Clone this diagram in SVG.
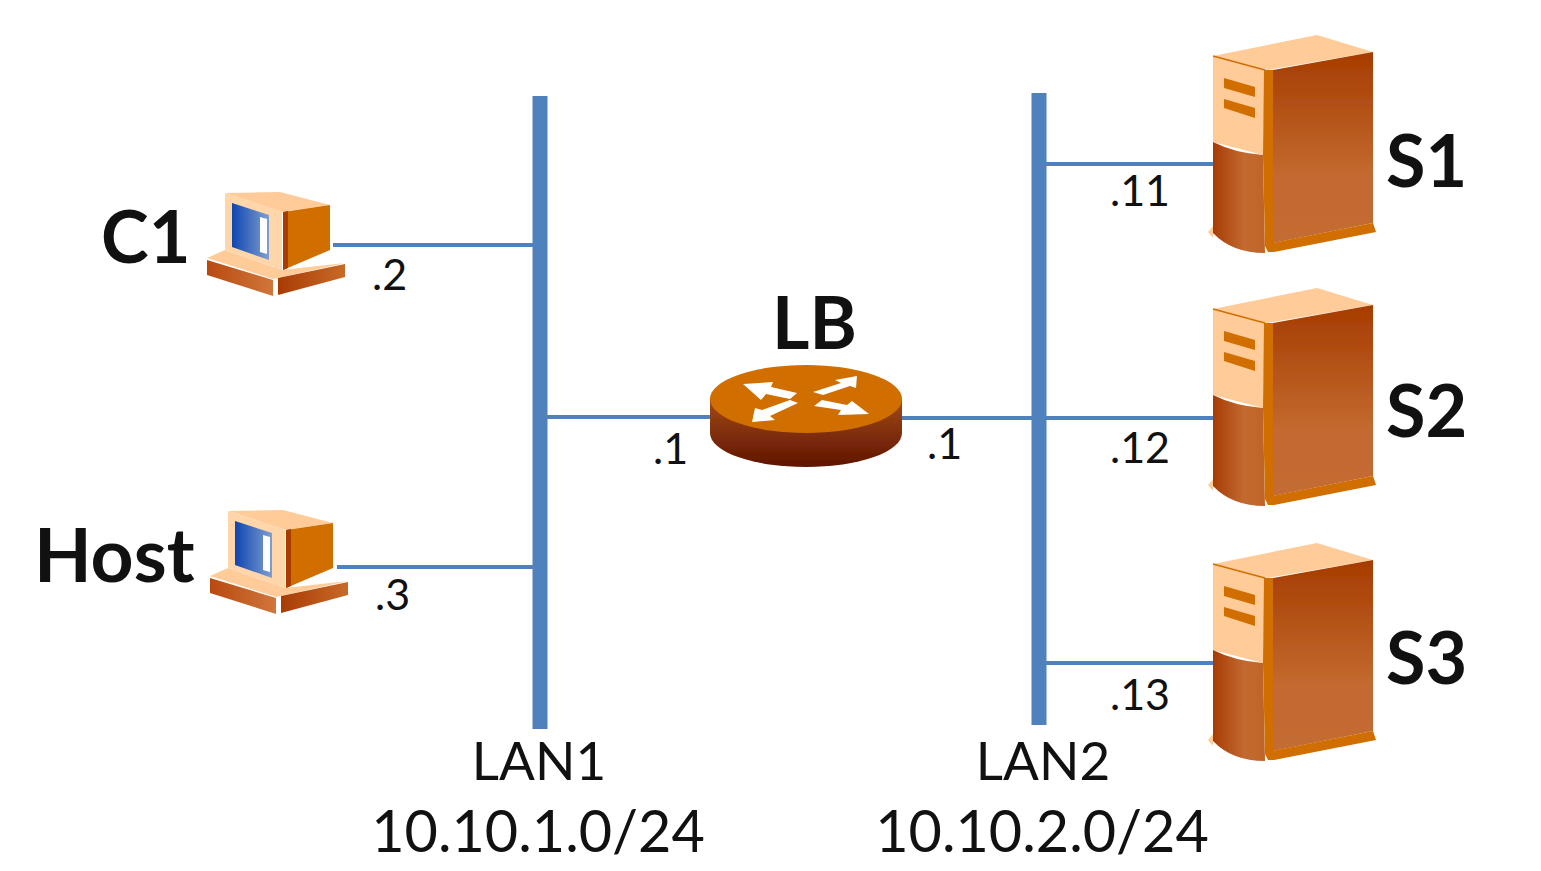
<svg xmlns="http://www.w3.org/2000/svg" xmlns:xlink="http://www.w3.org/1999/xlink" width="1541" height="871" viewBox="0 0 1541 871">
<style>
text{font-family:Lato,"Open Sans","Liberation Sans",sans-serif;fill:#111}
.b{font-weight:700;font-size:72px}
.l{font-size:43px}
.lan{font-size:53px}
.net{font-size:57.5px}
.bus{stroke:#4f81bd;stroke-width:15;fill:none}
.wire{stroke:#4f81bd;stroke-width:4;fill:none}
</style>
<defs>
<filter id="soft" x="-5%" y="-5%" width="110%" height="110%"><feGaussianBlur stdDeviation="0.7"/></filter>
<linearGradient id="scr" x1="0" x2="1" y1="0" y2="0"><stop offset="0" stop-color="#0f46b0"/><stop offset="1" stop-color="#7f9fd0"/></linearGradient>
<linearGradient id="lowFront" x1="0" x2="1" y1="0" y2="0"><stop offset="0" stop-color="#a83c04"/><stop offset=".6" stop-color="#c26a30"/><stop offset="1" stop-color="#c06428"/></linearGradient>
<linearGradient id="srvSide" x1="0" x2="0" y1="0" y2="1"><stop offset="0" stop-color="#a63c00"/><stop offset=".65" stop-color="#c26a30"/><stop offset="1" stop-color="#c46c34"/></linearGradient>
<linearGradient id="rtrSide" x1="0" x2="0" y1="0" y2="1"><stop offset="0" stop-color="#a04a18"/><stop offset="1" stop-color="#601400"/></linearGradient>
<linearGradient id="baseL" x1="0" x2="1" y1="0" y2="0"><stop offset="0" stop-color="#b84a10"/><stop offset="1" stop-color="#d0763c"/></linearGradient>
<linearGradient id="baseR" x1="0" x2="1" y1="0" y2="0"><stop offset="0" stop-color="#a83c04"/><stop offset="1" stop-color="#c86a28"/></linearGradient>
<g id="pc" filter="url(#soft)">
<polygon points="207,258 225,250 282,270 345,263 278,278 273,279" fill="#ffcc99"/>
<polygon points="207,260 273,280 273,296 207,275" fill="url(#baseL)"/>
<polygon points="278,278 345,264 345,277 278,295" fill="url(#baseR)"/>
<polygon points="225,193 280,192 330,205 282,212" fill="#ffcc99"/>
<polygon points="225,193 282,212 282,270 225,250" fill="#ffd5aa"/>
<polygon points="283,212 330,205 330,250 283,270" fill="#d06e00"/>
<polygon points="283,212 288,211 288,268 283,270" fill="#a83c04"/>
<polygon points="232,203 269,215 269,260 232,247" fill="url(#scr)"/>
<polygon points="260,217 267,219 267,254 260,252" fill="#fff"/>
</g>
<g id="srv" filter="url(#soft)">
<polygon points="1213,56 1317,35 1373,52 1267,70" fill="#ffcc99"/>
<polygon points="1213,56 1265,70 1263,155 1213,142" fill="#ffcc99"/>
<path d="M1213,56 L1265,70" stroke="#d06e00" stroke-width="1.5"/>
<path d="M1213,142 Q1235,153 1263,155 L1265,253 Q1232,253 1213,233 Z" fill="url(#lowFront)"/>
<polygon points="1208,232 1213,226 1213,238" fill="#ffcc99"/>
<polygon points="1264,70 1274,70 1274,252 1268,252 1265,246 1263,155" fill="#d06e00"/>
<polygon points="1273,70 1373,52 1373,223 1273,243" fill="url(#srvSide)"/>
<polygon points="1272,243 1373,223 1376,232 1274,252" fill="#d06e00"/>
<polygon points="1224,78 1255,87 1255,97 1224,88" fill="#d06e00"/>
<polygon points="1224,99 1255,108 1255,118 1224,108" fill="#d06e00"/>
</g>
</defs>
<rect width="1541" height="871" fill="#fff"/>
<g id="connectors">
<line class="bus" x1="540" y1="96" x2="540" y2="729"/>
<line class="bus" x1="1039" y1="93" x2="1039" y2="725"/>
<line class="wire" x1="333" y1="245" x2="533" y2="245"/>
<line class="wire" x1="337" y1="567" x2="533" y2="567"/>
<line class="wire" x1="547" y1="417" x2="712" y2="417"/>
<line class="wire" x1="900" y1="418" x2="1214" y2="418"/>
<line class="wire" x1="1046" y1="164" x2="1214" y2="164"/>
<line class="wire" x1="1046" y1="663" x2="1214" y2="663"/>
</g>
<g id="C1"><use xlink:href="#pc"/><text class="b" x="101" y="263">C1</text><text class="l" x="372" y="290">.2</text></g>
<g id="Host"><use xlink:href="#pc" transform="translate(3,318)"/><text class="b" style="font-size:75px" x="34" y="582">Host</text><text class="l" x="375" y="610">.3</text></g>
<g id="LB">
<g filter="url(#soft)">
<path d="M710,399 V433 A96,34 0 0 0 902,433 V399 Z" fill="url(#rtrSide)"/>
<ellipse cx="806" cy="399" rx="96" ry="34" fill="#d06e00"/>
<g fill="#fff">
<polygon points="743,384 773,382 771,387 797,393 790,399 766,394 761,400"/>
<polygon points="857,376 856,388 850,386 823,395 813,392 841,383 835,380"/>
<polygon points="752,422 755,408 762,410 790,400 798,403 770,416 775,420"/>
<polygon points="869,414 838,415 841,410 814,406 822,400 847,405 852,401"/>
</g>
</g>
<text class="b" x="772" y="349">LB</text>
<text class="l" x="653" y="464">.1</text>
<text class="l" x="927" y="459">.1</text>
</g>
<g id="S1"><use xlink:href="#srv"/><text class="b" x="1386" y="187">S1</text><text class="l" x="1110" y="206">.11</text></g>
<g id="S2"><use xlink:href="#srv" transform="translate(0,253)"/><text class="b" x="1386" y="437">S2</text><text class="l" x="1110" y="463">.12</text></g>
<g id="S3"><use xlink:href="#srv" transform="translate(0,508)"/><text class="b" x="1386" y="684">S3</text><text class="l" x="1110" y="710">.13</text></g>
<g id="LAN1"><text class="lan" x="539" y="780" text-anchor="middle">LAN1</text><text class="net" x="538" y="852" text-anchor="middle">10.10.1.0/24</text></g>
<g id="LAN2"><text class="lan" x="1043" y="780" text-anchor="middle">LAN2</text><text class="net" x="1042" y="852" text-anchor="middle">10.10.2.0/24</text></g>
</svg>
